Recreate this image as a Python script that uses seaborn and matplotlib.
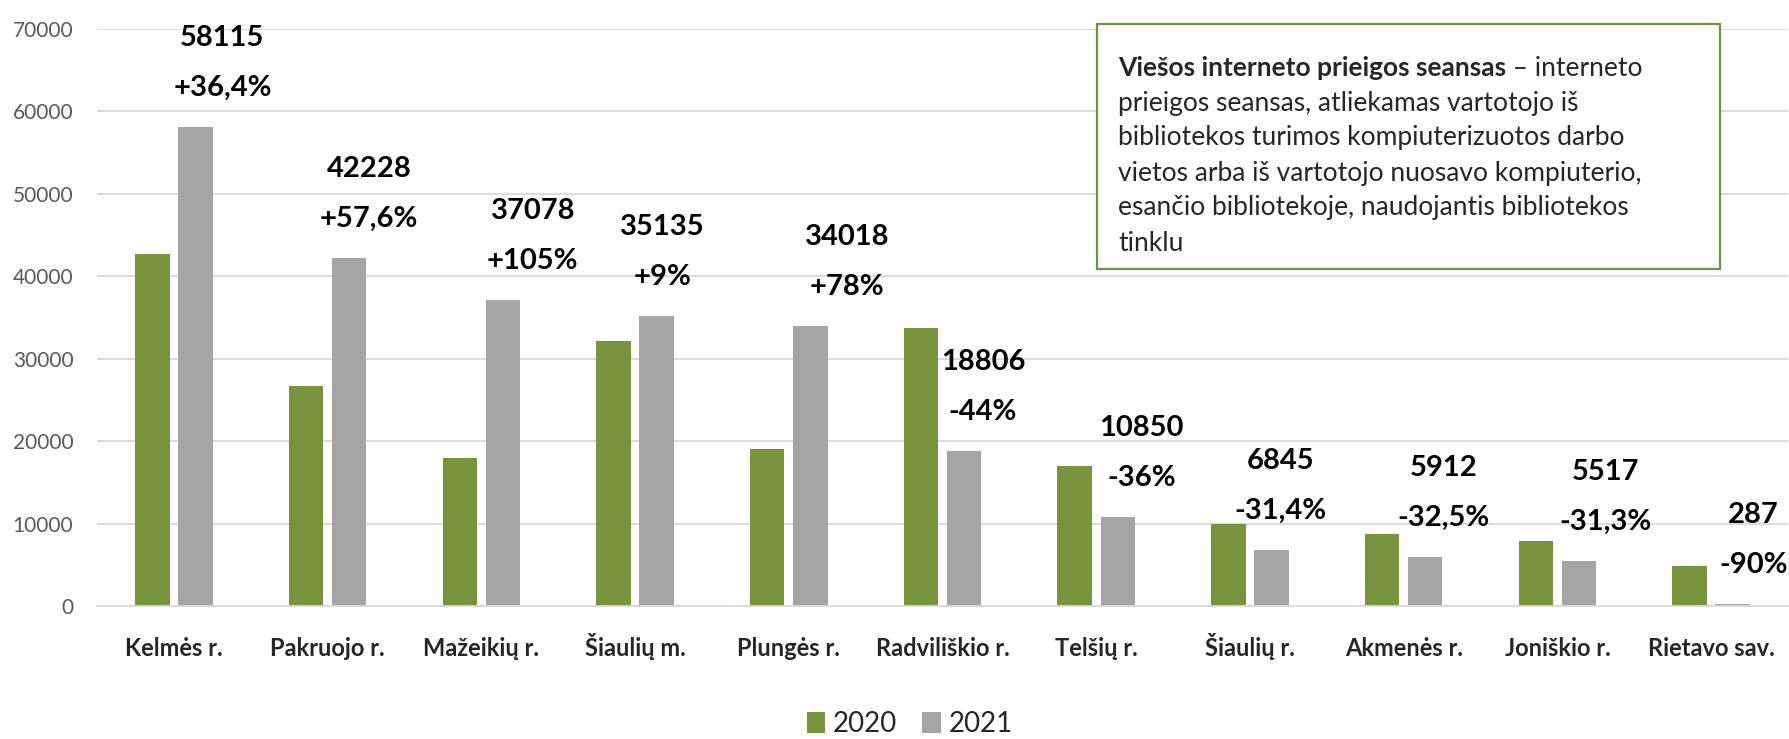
import matplotlib

matplotlib.use("Agg")

import matplotlib.pyplot as plt
import pandas as pd
import seaborn as sns
from matplotlib.patches import Rectangle

# data
REGIONS = [
    "Kelmės r.", "Pakruojo r.", "Mažeikių r.", "Šiaulių m.", "Plungės r.",
    "Radviliškio r.", "Telšių r.", "Šiaulių r.", "Akmenės r.", "Joniškio r.",
    "Rietavo sav.",
]
YEARS = ["2020", "2021"]
SESSIONS_2020 = [42700, 26700, 18000, 32200, 19000, 33700, 17000, 9900, 8700, 7900, 4900]
SESSIONS_2021 = [58115, 42228, 37078, 35135, 34018, 18806, 10850, 6845, 5912, 5517, 287]
CHANGE = ["+36,4%", "+57,6%", "+105%", "+9%", "+78%", "-44%", "-36%", "-31,4%", "-32,5%", "-31,3%", "-90%"]
Y_TICKS = [0, 10000, 20000, 30000, 40000, 50000, 60000, 70000]

DEFINITION_BOLD = "Viešos interneto prieigos seansas"
DEFINITION_REST = [
    " – interneto",
    "prieigos seansas, atliekamas vartotojo iš",
    "bibliotekos turimos kompiuterizuotos darbo",
    "vietos arba iš vartotojo nuosavo kompiuterio,",
    "esančio bibliotekoje, naudojantis bibliotekos",
    "tinklu",
]

# layout / style
W, H = 1790, 739
PT = 72 / 100  # points per pixel at dpi=100
GREEN = "#77933C"
GRAY = "#A5A5A5"
GRID = "#D9D9D9"
BOX_EDGE = "#6A9440"
LABEL_NUDGE_PX = [27, 20, 30, 6, 37, 19, 24, 9, 18, 27, 21]

sns.set_theme(style="white")
plt.rcParams["font.family"] = ["Lato", "DejaVu Sans"]

n = len(REGIONS)
df = pd.DataFrame(
    {
        "region": REGIONS * 2,
        "year": [YEARS[0]] * n + [YEARS[1]] * n,
        "sessions": SESSIONS_2020 + SESSIONS_2021,
    }
)

fig = plt.figure(figsize=(W / 100, H / 100), dpi=100)
ax = fig.add_axes([97 / W, 133 / H, (1788 - 97) / W, 577 / H])

sns.barplot(
    data=df, x="region", y="sessions", hue="year",
    palette=[GREEN, GRAY], saturation=1, width=0.56, gap=0.2,
    linewidth=0, ax=ax,
)

ax.set_ylim(0, 70000)
ax.set_yticks(Y_TICKS)
ax.set_yticklabels([str(t) for t in Y_TICKS])
ax.yaxis.grid(True, color=GRID, linewidth=1.3)
ax.set_axisbelow(True)
for side in ["left", "right", "top"]:
    ax.spines[side].set_visible(False)
ax.spines["bottom"].set_color(GRID)
ax.spines["bottom"].set_linewidth(1.3)
ax.set_xlabel("")
ax.set_ylabel("")
ax.tick_params(axis="y", length=0, pad=17, labelsize=15, labelcolor="#595959")
ax.tick_params(axis="x", length=0, pad=36, labelsize=17)
for lab in ax.get_xticklabels():
    lab.set_fontweight("bold")
    lab.set_verticalalignment("baseline")

# value + change labels above the 2021 bars
for bar, val, chg, dx in zip(ax.containers[1], SESSIONS_2021, CHANGE, LABEL_NUDGE_PX):
    x = bar.get_x() + bar.get_width() / 2
    for text, dy in [(str(val), 89), (chg, 39)]:
        ax.annotate(
            text, xy=(x, val), xytext=(dx * PT, dy * PT), textcoords="offset points",
            ha="center", va="center", fontsize=21, fontweight="bold",
            color="black", annotation_clip=False,
        )

handles, labels = ax.get_legend_handles_labels()
ax.get_legend().remove()
fig.legend(
    handles, labels, loc="center", bbox_to_anchor=(910 / W, 1 - 724 / H), ncol=2,
    frameon=False, fontsize=20, handlelength=0.65, handleheight=0.8,
    handletextpad=0.3, columnspacing=0.9,
)

# definition box
fig.add_artist(
    Rectangle(
        (1097 / W, 1 - 269 / H), (1720 - 1097) / W, (269 - 24) / H,
        transform=fig.transFigure, facecolor="white", edgecolor=BOX_EDGE,
        linewidth=1.6, zorder=5,
    )
)
first = fig.text(1118 / W, 1 - 68 / H, DEFINITION_BOLD, fontsize=19, fontweight="bold",
                 va="center", ha="left", zorder=6)
fig.canvas.draw()
bb = first.get_window_extent()
fig.text(bb.x1 / W, 1 - 68 / H, DEFINITION_REST[0], fontsize=19, va="center", ha="left", zorder=6)
for k, line in enumerate(DEFINITION_REST[1:], start=1):
    fig.text(1118 / W, 1 - (68 + 35 * k) / H, line, fontsize=19, va="center", ha="left", zorder=6)

fig.savefig("out.png", dpi=100)
